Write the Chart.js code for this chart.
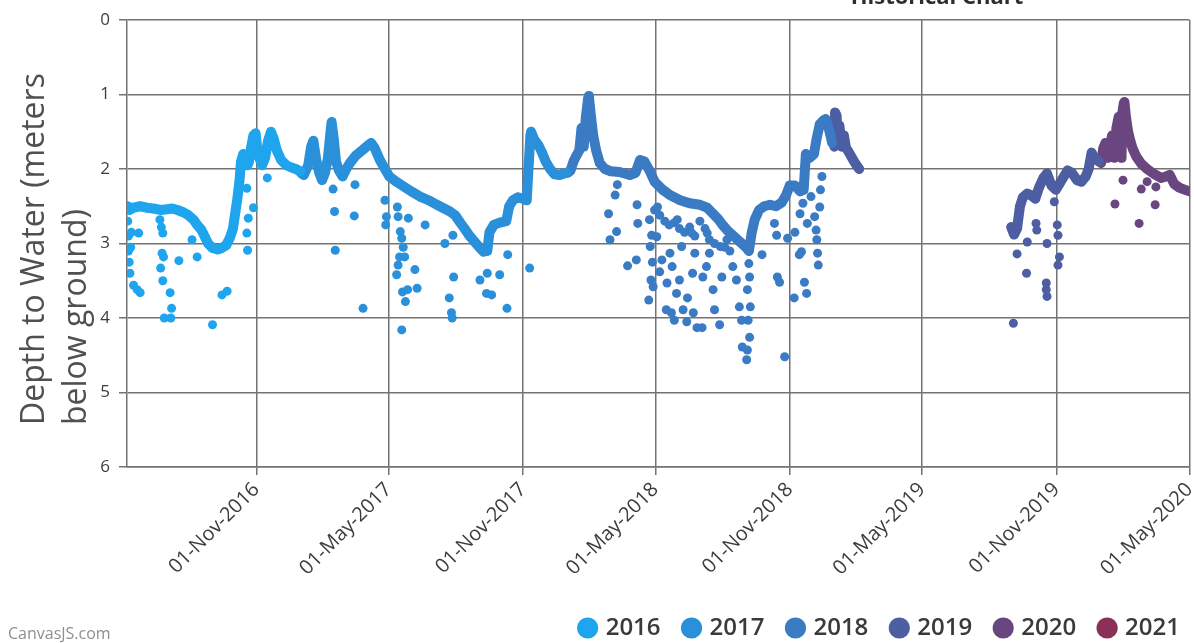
<!DOCTYPE html>
<html>
<head>
<meta charset="utf-8">
<title>Historical Chart</title>
<script src="https://cdn.jsdelivr.net/npm/chart.js@4.4.1/dist/chart.umd.min.js"></script>
<style>
  html, body { margin: 0; padding: 0; background: #ffffff; }
  #wrap { position: relative; width: 1194px; height: 643px; }
</style>
</head>
<body>
<div id="wrap"><canvas id="chart" width="1194" height="643"></canvas></div>
<script>
// ---- chart content -------------------------------------------------------
const years = [2016, 2017, 2018, 2019, 2020, 2021];
const yearColors = ['#1ea5ee', '#2a90da', '#3a7bc4', '#4d5ea2', '#6a4681', '#8a3059'];
const xTickLabels = ['01-Nov-2016', '01-May-2017', '01-Nov-2017', '01-May-2018',
                     '01-Nov-2018', '01-May-2019', '01-Nov-2019', '01-May-2020'];
const xRange = ['2016-05-08', '2020-05-01'];
const yRange = [0, 6];
const yAxisTitle = ['Depth to Water (meters', 'below ground)'];

// Daily water-level readings, [month-day, depth in metres below ground]
const trace2016 = [['05-09',2.50],['05-11',2.55],['05-17',2.52],['05-26',2.50],['06-04',2.52],['06-13',2.53],
  ['06-23',2.55],['07-02',2.54],['07-09',2.53],['07-16',2.55],['07-24',2.58],['07-31',2.62],['08-07',2.68],
  ['08-12',2.75],['08-18',2.82],['08-23',2.92],['08-27',3.00],['09-02',3.06],['09-09',3.08],['09-15',3.06],
  ['09-21',3.02],['09-26',2.92],['09-30',2.80],['10-03',2.60],['10-06',2.40],['10-09',2.15],['10-11',1.90],
  ['10-14',1.80],['10-17',1.85],['10-20',1.95],['10-22',1.90],['10-25',1.70],['10-28',1.55],['10-31',1.52],
  ['11-02',1.70],['11-05',1.85],['11-09',1.95],['11-13',1.85],['11-17',1.62],['11-21',1.50],['11-25',1.60],
  ['11-29',1.75],['12-05',1.88],['12-12',1.95],['12-19',1.98],['12-25',2.00],['12-31',2.03]];

const trace2017 = [['01-01',2.05],['01-05',2.08],['01-11',1.95],['01-15',1.70],['01-18',1.62],['01-22',1.88],
  ['01-26',2.05],['01-30',2.15],['02-03',2.05],['02-07',1.85],['02-11',1.45],['02-12',1.37],['02-15',1.60],
  ['02-18',1.90],['02-22',2.02],['02-27',2.10],['03-04',2.00],['03-09',1.92],['03-17',1.82],['03-27',1.74],
  ['04-03',1.68],['04-07',1.65],['04-12',1.72],['04-19',1.88],['04-26',2.00],['05-02',2.10],['05-13',2.18],
  ['05-24',2.25],['06-01',2.30],['06-13',2.37],['06-27',2.43],['07-06',2.48],['07-14',2.52],['07-24',2.57],
  ['07-31',2.62],['08-07',2.72],['08-13',2.80],['08-20',2.90],['08-27',2.98],['09-03',3.06],['09-08',3.11],
  ['09-13',3.10],['09-16',2.85],['09-22',2.75],['09-30',2.72],['10-09',2.70],['10-13',2.50],['10-18',2.42],
  ['10-25',2.38],['11-01',2.40],['11-06',2.42],['11-11',1.55],['11-12',1.50],['11-16',1.60],['11-22',1.68],
  ['11-27',1.78],['12-02',1.90],['12-08',2.00],['12-14',2.07],['12-21',2.08],['12-30',2.05]];

const trace2018 = [['01-01',2.05],['01-05',2.02],['01-09',1.90],['01-13',1.82],['01-17',1.75],['01-20',1.45],
  ['01-23',1.70],['01-26',1.30],['01-29',1.05],['01-30',1.02],['02-02',1.30],['02-05',1.55],['02-09',1.75],
  ['02-14',1.92],['02-21',2.00],['03-01',2.03],['03-13',2.04],['03-27',2.08],['04-04',2.05],['04-10',1.88],
  ['04-16',1.90],['04-23',2.02],['04-30',2.17],['05-10',2.27],['05-21',2.35],['06-04',2.42],['06-17',2.46],
  ['07-01',2.48],['07-11',2.52],['07-19',2.60],['07-26',2.67],['08-01',2.75],['08-08',2.83],['08-16',2.90],
  ['08-25',2.98],['09-02',3.05],['09-06',3.10],['09-10',2.85],['09-14',2.68],['09-20',2.55],['09-27',2.50],
  ['10-05',2.48],['10-13',2.50],['10-21',2.45],['10-27',2.35],['11-01',2.22],['11-08',2.22],['11-15',2.30],
  ['11-20',2.28],['11-23',1.80],['11-28',1.85],['12-04',1.80],['12-08',1.58],['12-12',1.40],['12-18',1.34],
  ['12-20',1.33],['12-25',1.48],['12-29',1.65]];

const trace2019Winter = [['01-01',1.70],['01-02',1.24],['01-04',1.28],['01-06',1.62],['01-08',1.42],['01-11',1.70],
  ['01-14',1.55],['01-17',1.72],['01-20',1.76],['01-24',1.83],['01-28',1.90],['02-01',1.96],['02-04',2.00]];

const trace2019Autumn = [['08-31',2.78],['09-04',2.88],['09-08',2.80],['09-12',2.50],['09-16',2.38],['09-22',2.33],
  ['09-27',2.35],['10-03',2.40],['10-08',2.25],['10-14',2.12],['10-19',2.06],['10-25',2.22],['10-31',2.28],
  ['11-05',2.20],['11-11',2.10],['11-16',2.02],['11-22',2.05],['11-29',2.15],['12-05',2.17],['12-11',2.10],
  ['12-15',2.00],['12-19',1.78],['12-23',1.85],['12-29',1.90]];

const trace2020 = [['01-01',1.92],['01-04',1.72],['01-07',1.65],['01-10',1.85],['01-13',1.72],['01-16',1.55],
  ['01-19',1.85],['01-22',1.45],['01-25',1.30],['01-27',1.60],['01-29',1.85],['01-30',1.25],['02-01',1.12],
  ['02-02',1.10],['02-04',1.30],['02-07',1.50],['02-10',1.62],['02-13',1.72],['02-18',1.83],['02-25',1.93],
  ['03-04',2.00],['03-14',2.07],['03-23',2.12],['03-30',2.10],['04-04',2.08],['04-10',2.20],['04-17',2.25],
  ['04-25',2.28],['05-01',2.30]];

const trace2021 = [];

// Isolated readings that sit away from the main trace
const spikes2016 = [['05-09',2.70],['05-10',2.90],['05-10',3.10],['05-11',3.25],['05-12',3.40],['05-13',3.05],
  ['05-14',2.85],['05-17',3.56],['05-22',3.62],['05-26',3.66],['05-24',2.86],['06-22',2.68],['06-24',2.78],
  ['06-23',3.33],['06-25',3.13],['06-27',3.18],['06-26',3.50],['06-28',4.00],['06-26',2.86],['07-07',4.00],
  ['07-08',3.87],['07-06',3.66],['07-18',3.23],['08-05',2.95],['08-12',3.18],['09-02',4.09],['09-15',3.69],
  ['09-22',3.64],['10-20',3.09],['10-19',2.86],['10-21',2.66],['10-28',2.52],['10-19',2.26],['11-16',2.12]];

const spikes2017 = [['02-14',2.27],['02-16',2.57],['02-17',3.09],['03-16',2.21],['03-15',2.63],['03-27',3.87],
  ['04-26',2.42],['04-28',2.64],['04-27',2.75],['05-13',2.51],['05-14',2.64],['05-17',2.84],['05-19',2.93],
  ['05-16',3.18],['05-14',3.29],['05-12',3.42],['05-23',3.18],['05-21',3.05],['05-20',3.65],['05-27',3.62],
  ['05-24',3.78],['05-19',4.16],['06-06',3.35],['06-09',3.60],['05-28',2.66],['06-20',2.75],['07-17',3.00],
  ['07-29',3.45],['07-23',3.73],['07-26',3.93],['07-27',4.00],['07-28',2.89],['09-03',3.49],['09-13',3.40],
  ['09-12',3.67],['09-19',3.69],['09-30',3.42],['10-11',3.15],['10-10',3.87],['11-10',3.33]];

const spikes2018 = [['02-26',2.60],['02-28',2.95],['03-07',2.35],['03-09',2.84],['03-10',2.21],['03-24',3.30],
  ['04-05',3.22],['04-06',2.48],['04-07',2.73],['04-22',3.76],['04-23',2.68],['04-24',3.04],['04-25',3.49],
  ['04-26',2.89],['04-27',3.25],['04-28',3.58],['04-30',2.55],['05-03',2.91],['05-04',2.51],['05-07',3.38],
  ['05-07',2.62],['05-10',3.22],['05-14',2.70],['05-16',3.89],['05-17',3.53],['05-20',2.75],['05-21',3.13],
  ['05-23',3.93],['05-24',3.31],['05-27',4.03],['05-27',2.72],['05-30',3.67],['05-31',2.68],['06-03',3.49],
  ['06-03',2.80],['06-06',3.04],['06-08',3.89],['06-10',2.85],['06-13',4.05],['06-14',3.73],['06-17',2.78],
  ['06-20',2.86],['06-21',3.40],['06-22',3.93],['06-24',3.13],['06-24',2.90],['06-27',4.13],['07-01',2.70],
  ['07-04',4.13],['07-05',3.45],['07-08',2.80],['07-10',3.31],['07-11',2.86],['07-14',3.13],['07-14',2.95],
  ['07-19',3.62],['07-21',3.89],['07-21',3.00],['07-28',4.09],['07-29',3.04],['07-31',3.45],['08-04',3.05],
  ['08-07',2.95],['08-11',3.10],['08-15',3.31],['08-20',3.49],['08-24',3.85],['08-27',4.03],['08-28',4.39],
  ['09-03',4.56],['09-04',4.43],['09-07',4.26],['09-05',4.03],['09-08',3.85],['09-04',3.62],['09-07',3.45],
  ['09-06',3.27],['09-24',3.15],['10-11',2.73],['10-14',2.89],['10-15',3.45],['10-18',3.52],['10-25',4.52],
  ['10-29',2.93],['11-07',3.73],['11-08',2.85],['11-14',3.15],['11-15',2.60],['11-17',3.11],['11-19',2.46],
  ['11-21',3.52],['11-24',3.67],['11-25',2.73],['11-30',2.37],['12-05',2.64],['12-07',2.82],['12-08',2.95],
  ['12-09',3.13],['12-10',3.29],['12-12',2.51],['12-13',2.28],['12-15',2.10]];

const spikes2019 = [['09-03',4.07],['09-08',3.14],['09-22',2.98],['09-21',3.40],['10-04',2.73],['10-05',2.82],
  ['10-19',3.00],['10-18',3.53],['10-18',3.62],['10-19',3.71],['10-29',2.44],['11-02',2.75],['11-03',2.89],
  ['11-05',3.18],['11-03',3.29]];

const spikes2020 = [['01-20',2.47],['01-31',2.15],['02-22',2.73],['02-25',2.27],['03-04',2.17],['03-16',2.24],
  ['03-15',2.48]];

const spikes2021 = [];

// ---- helpers ---------------------------------------------------------------
const MONTHS = ['Jan','Feb','Mar','Apr','May','Jun','Jul','Aug','Sep','Oct','Nov','Dec'];
const DAY = 86400000;
const isoToMs = s => { const [y, m, d] = s.split('-').map(Number); return Date.UTC(y, m - 1, d); };
const dayValue = (year, md) => { const [m, d] = md.split('-').map(Number); return Date.UTC(year, m - 1, d); };
const toPoints = (year, rows) => rows.map(([md, depth]) => ({ x: dayValue(year, md), y: depth }));
const tickLabelToMs = s => { const [d, mon, y] = s.split('-'); return Date.UTC(+y, MONTHS.indexOf(mon), +d); };
const xTickValues = xTickLabels.map(tickLabelToMs);

// continuous stretches of the record for each year (a gap breaks the line)
const traceSegments = [[trace2016], [trace2017], [trace2018], [trace2019Winter, trace2019Autumn], [trace2020], [trace2021]];
const spikeRows = [spikes2016, spikes2017, spikes2018, spikes2019, spikes2020, spikes2021];

const datasets = [];
years.forEach((year, i) => {
  const color = yearColors[i];
  const pts = [];
  traceSegments[i].forEach((seg, k) => {
    const segPts = toPoints(year, seg);
    if (k > 0 && segPts.length) pts.push({ x: segPts[0].x - DAY, y: null });
    pts.push(...segPts);
  });
  datasets.push({
    label: String(year), data: pts, showLine: true, spanGaps: false,
    borderColor: color, backgroundColor: color, borderWidth: 10,
    borderJoinStyle: 'round', borderCapStyle: 'round', tension: 0,
    pointRadius: 4.5, pointBorderWidth: 0, pointStyle: 'circle'
  });
  datasets.push({
    label: String(year), data: toPoints(year, spikeRows[i]), showLine: false, offTrace: true,
    borderColor: color, backgroundColor: color, pointRadius: 4.5, pointBorderWidth: 0, pointStyle: 'circle'
  });
});

// ---- styling ---------------------------------------------------------------
const gridColor = '#737373';
const tickColor = '#3d3d3d';
const FONT = '"Open Sans", "DejaVu Sans", sans-serif';
Chart.defaults.font.family = FONT;

const LAYOUT_PAD = { top: 20, left: 0, right: -11, bottom: -7 };
const PLOT_BOTTOM = 467;
const PLOT_LEFT = 127;

// chart heading, rotated axis title and credit line
const annotations = {
  id: 'annotations',
  afterDraw(chart) {
    const ctx = chart.ctx;
    const area = chart.chartArea;
    ctx.save();
    ctx.font = 'bold 22px ' + FONT;
    ctx.fillStyle = '#2e2e2e';
    ctx.textAlign = 'center';
    ctx.textBaseline = 'alphabetic';
    ctx.fillText('Historical Chart', 937, 4);

    ctx.font = '32px ' + FONT;
    ctx.fillStyle = '#505050';
    ctx.textAlign = 'left';
    yAxisTitle.forEach((line, i) => {
      ctx.save();
      ctx.translate(44 + i * 42, area.bottom - 42);
      ctx.rotate(-Math.PI / 2);
      ctx.fillText(line, 0, 0);
      ctx.restore();
    });

    ctx.font = '16px ' + FONT;
    ctx.fillStyle = '#8f8f8f';
    ctx.fillText('CanvasJS.com', 8, 639);
    ctx.restore();
  }
};

new Chart(document.getElementById('chart'), {
  type: 'scatter',
  data: { datasets },
  plugins: [annotations],
  options: {
    responsive: false,
    devicePixelRatio: 1,
    animation: false,
    events: [],
    layout: { padding: LAYOUT_PAD },
    scales: {
      x: {
        type: 'linear',
        min: isoToMs(xRange[0]),
        max: isoToMs(xRange[1]),
        afterBuildTicks: scale => { scale.ticks = xTickValues.map(v => ({ value: v })); },
        afterFit: scale => {
          scale.paddingRight = 4;
          const lh = scale.chart.legend ? scale.chart.legend.height : 0;
          scale.height = scale.chart.height - LAYOUT_PAD.bottom - lh - PLOT_BOTTOM;
        },
        ticks: {
          autoSkip: false, minRotation: 45, maxRotation: 45, padding: 3,
          color: tickColor, font: { size: 20 },
          callback: (v, i) => xTickLabels[i]
        },
        grid: { color: gridColor, lineWidth: 1.5, tickLength: 8, tickColor: gridColor },
        border: { color: gridColor, width: 1.5 }
      },
      y: {
        reverse: true,
        min: yRange[0], max: yRange[1],
        afterFit: scale => { scale.width = PLOT_LEFT - LAYOUT_PAD.left; },
        ticks: { stepSize: 1, padding: 9, color: tickColor, font: { size: 17 } },
        grid: { color: gridColor, lineWidth: 1.5, tickLength: 8, tickColor: gridColor },
        border: { color: gridColor, width: 1.5 },
        title: { display: false }
      }
    },
    plugins: {
      tooltip: { enabled: false },
      legend: {
        display: true, position: 'bottom', align: 'end',
        labels: {
          usePointStyle: true, pointStyle: 'circle', boxWidth: 12, boxHeight: 15, padding: 25,
          color: '#3a3a3a', font: { size: 24, weight: 600 },
          generateLabels: chart => Chart.defaults.plugins.legend.labels.generateLabels(chart)
            .filter(item => !chart.data.datasets[item.datasetIndex].offTrace)
            .map(item => Object.assign(item, { lineWidth: 0 }))
        }
      }
    }
  }
});
</script>
</body>
</html>
